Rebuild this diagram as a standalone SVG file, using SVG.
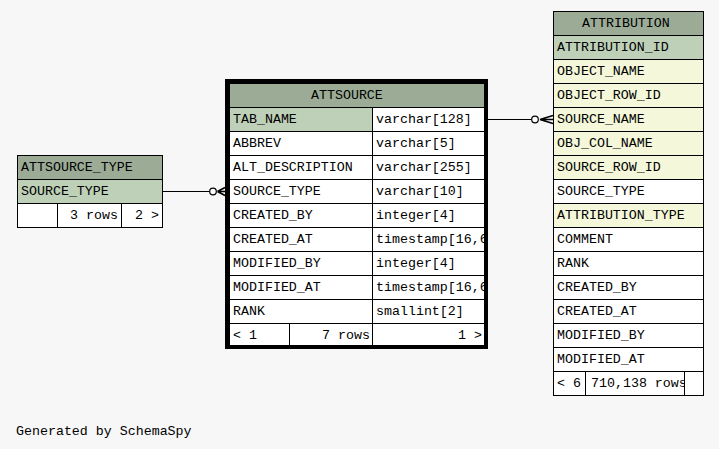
<svg xmlns="http://www.w3.org/2000/svg" width="719" height="449" viewBox="0 0 719 449">
<style>
text{font-family:"Liberation Mono","DejaVu Sans Mono",monospace;font-size:13.3px;fill:#000}
.e{text-anchor:end}
.c{stroke:#000;stroke-width:1;shape-rendering:crispEdges}
.h{fill:#9bab96}
.pk{fill:#bed1b8}
.ix{fill:#f4f7da}
.w{fill:#ffffff}
.ln{stroke:#000;stroke-width:1.2;fill:none}
.crow{stroke:#000;stroke-width:1.6;fill:none}
.dot{stroke:#000;stroke-width:1.2;fill:#ffffff}
</style>
<defs>
<clipPath id="clipA"><rect x="229" y="83" width="255" height="264"/></clipPath>
<clipPath id="clipB"><rect x="586" y="371" width="98" height="24"/></clipPath>
</defs>
<rect width="719" height="449" fill="#f7f7f7"/>

<g id="connectors">
<line class="ln" x1="162" y1="191.5" x2="210" y2="191.5"/>
<circle class="dot" cx="213" cy="191.5" r="3.3"/>
<path class="crow" d="M217.5,191.5 L225,187.5 M217.5,191.5 L225,191.5 M217.5,191.5 L225,195.5"/>
<line class="ln" x1="488" y1="119.5" x2="531.7" y2="119.5"/>
<circle class="dot" cx="535" cy="119.5" r="3.3"/>
<path class="crow" d="M540,119.5 L553,115.5 M540,119.5 L553,119.5 M540,119.5 L553,123.5"/>
</g>

<g id="ATTSOURCE_TYPE">
<rect class="c h" x="17.5" y="155.5" width="145" height="24"/>
<rect class="c pk" x="17.5" y="179.5" width="145" height="24"/>
<rect class="c w" x="17.5" y="203.5" width="40" height="24"/>
<rect class="c w" x="57.5" y="203.5" width="64" height="24"/>
<rect class="c w" x="121.5" y="203.5" width="41" height="24"/>
<text x="21" y="171">ATTSOURCE_TYPE</text>
<text x="21" y="195">SOURCE_TYPE</text>
<text class="e" x="118" y="219">3 rows</text>
<text class="e" x="159" y="219">2 &gt;</text>
</g>

<g id="ATTSOURCE">
<rect class="c h" x="229" y="83" width="257" height="24"/>
<rect class="c pk" x="229" y="107.5" width="143.5" height="24"/>
<rect class="c w" x="372.5" y="107.5" width="113.5" height="24"/>
<rect class="c w" x="229" y="131.5" width="143.5" height="24"/>
<rect class="c w" x="372.5" y="131.5" width="113.5" height="24"/>
<rect class="c w" x="229" y="155.5" width="143.5" height="24"/>
<rect class="c w" x="372.5" y="155.5" width="113.5" height="24"/>
<rect class="c w" x="229" y="179.5" width="143.5" height="24"/>
<rect class="c w" x="372.5" y="179.5" width="113.5" height="24"/>
<rect class="c w" x="229" y="203.5" width="143.5" height="24"/>
<rect class="c w" x="372.5" y="203.5" width="113.5" height="24"/>
<rect class="c w" x="229" y="227.5" width="143.5" height="24"/>
<rect class="c w" x="372.5" y="227.5" width="113.5" height="24"/>
<rect class="c w" x="229" y="251.5" width="143.5" height="24"/>
<rect class="c w" x="372.5" y="251.5" width="113.5" height="24"/>
<rect class="c w" x="229" y="275.5" width="143.5" height="24"/>
<rect class="c w" x="372.5" y="275.5" width="113.5" height="24"/>
<rect class="c w" x="229" y="299.5" width="143.5" height="24"/>
<rect class="c w" x="372.5" y="299.5" width="113.5" height="24"/>
<rect class="c w" x="229" y="323.5" width="60.5" height="24"/>
<rect class="c w" x="289.5" y="323.5" width="83" height="24"/>
<rect class="c w" x="372.5" y="323.5" width="113.5" height="24"/>
<g clip-path="url(#clipA)">
<text x="311" y="99">ATTSOURCE</text>
<text x="233" y="123">TAB_NAME</text><text x="376" y="123">varchar[128]</text>
<text x="233" y="147">ABBREV</text><text x="376" y="147">varchar[5]</text>
<text x="233" y="171">ALT_DESCRIPTION</text><text x="376" y="171">varchar[255]</text>
<text x="233" y="195">SOURCE_TYPE</text><text x="376" y="195">varchar[10]</text>
<text x="233" y="219">CREATED_BY</text><text x="376" y="219">integer[4]</text>
<text x="233" y="243">CREATED_AT</text><text x="376" y="243">timestamp[16,6]</text>
<text x="233" y="267">MODIFIED_BY</text><text x="376" y="267">integer[4]</text>
<text x="233" y="291">MODIFIED_AT</text><text x="376" y="291">timestamp[16,6]</text>
<text x="233" y="315">RANK</text><text x="376" y="315">smallint[2]</text>
<text x="233" y="339">&lt; 1</text>
<text class="e" x="370" y="339">7 rows</text>
<text class="e" x="482" y="339">1 &gt;</text>
</g>
<rect x="227" y="81" width="259" height="266" fill="none" stroke="#000" stroke-width="4"/>
</g>

<g id="ATTRIBUTION">
<rect class="c h" x="553.5" y="11.5" width="150" height="24"/>
<rect class="c pk" x="553.5" y="35.5" width="150" height="24"/>
<rect class="c ix" x="553.5" y="59.5" width="150" height="24"/>
<rect class="c ix" x="553.5" y="83.5" width="150" height="24"/>
<rect class="c ix" x="553.5" y="107.5" width="150" height="24"/>
<rect class="c ix" x="553.5" y="131.5" width="150" height="24"/>
<rect class="c ix" x="553.5" y="155.5" width="150" height="24"/>
<rect class="c w" x="553.5" y="179.5" width="150" height="24"/>
<rect class="c ix" x="553.5" y="203.5" width="150" height="24"/>
<rect class="c w" x="553.5" y="227.5" width="150" height="24"/>
<rect class="c w" x="553.5" y="251.5" width="150" height="24"/>
<rect class="c w" x="553.5" y="275.5" width="150" height="24"/>
<rect class="c w" x="553.5" y="299.5" width="150" height="24"/>
<rect class="c w" x="553.5" y="323.5" width="150" height="24"/>
<rect class="c w" x="553.5" y="347.5" width="150" height="24"/>
<rect class="c w" x="553.5" y="371.5" width="32" height="24"/>
<rect class="c w" x="585.5" y="371.5" width="99" height="24"/>
<rect class="c w" x="684.5" y="371.5" width="19" height="24"/>
<text x="582" y="27">ATTRIBUTION</text>
<text x="557" y="51">ATTRIBUTION_ID</text>
<text x="557" y="75">OBJECT_NAME</text>
<text x="557" y="99">OBJECT_ROW_ID</text>
<text x="557" y="123">SOURCE_NAME</text>
<text x="557" y="147">OBJ_COL_NAME</text>
<text x="557" y="171">SOURCE_ROW_ID</text>
<text x="557" y="195">SOURCE_TYPE</text>
<text x="557" y="219">ATTRIBUTION_TYPE</text>
<text x="557" y="243">COMMENT</text>
<text x="557" y="267">RANK</text>
<text x="557" y="291">CREATED_BY</text>
<text x="557" y="315">CREATED_AT</text>
<text x="557" y="339">MODIFIED_BY</text>
<text x="557" y="363">MODIFIED_AT</text>
<text x="557" y="387">&lt; 6</text>
<text x="591" y="387" clip-path="url(#clipB)">710,138 rows</text>
</g>

<text x="16" y="435">Generated by SchemaSpy</text>
</svg>
